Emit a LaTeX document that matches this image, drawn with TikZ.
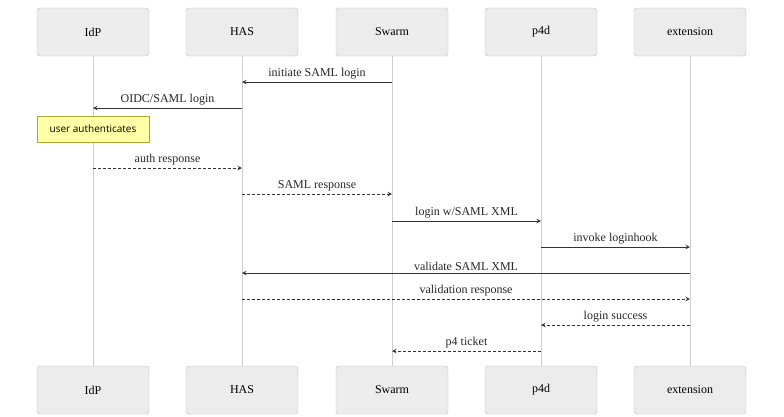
\documentclass[tikz,border=0pt]{standalone}
\usepackage{fontspec}
\setmainfont{Liberation Serif}
\newfontfamily\notefont{Open Sans}
\usepackage{tikz}

\definecolor{actorfill}{HTML}{ECECEC}
\definecolor{actorline}{HTML}{BDBDBD}
\definecolor{lifeline}{HTML}{CFCFCF}
\definecolor{notefill}{HTML}{FFFFA8}
\definecolor{noteline}{HTML}{AAAA33}
\definecolor{msgline}{HTML}{333333}

\begin{document}
\begin{tikzpicture}[x=1pt, y=-1pt,
        actor/.style={draw=actorline, fill=actorfill, rounded corners=3pt, minimum width=112pt, minimum height=48pt, inner sep=0pt, font=\fontsize{12}{14}\selectfont},
        life/.style={draw=lifeline, line width=1pt},
        msg/.style={draw=msgline, line width=1pt, -stealth},
        reply/.style={msg, dash pattern=on 3pt off 2pt},
        lbl/.style={above, inner sep=2pt, text=black!85, font=\fontsize{12}{14}\selectfont},
        notebox/.style={draw=noteline, fill=notefill, minimum width=112pt, minimum height=26pt, inner sep=0pt, font=\notefont\fontsize{10}{12}\selectfont}]
        \useasboundingbox (0,0) rectangle (784,416);

        % actors, top and bottom
        \foreach \n/\t/\x in {idp/IdP/93, has/HAS/242, swarm/Swarm/392, ptd/p4d/541, ext/extension/690} {
            \node[actor] (\n-top) at (\x,32) {\t};
            \node[actor] (\n-bot) at (\x,390) {\t};
            \draw[life] (\n-top.south) -- (\n-bot.north);
        }

        % message rows
        \coordinate (m1) at (0,82);
        \coordinate (m2) at (0,108);
        \coordinate (m3) at (0,168);
        \coordinate (m4) at (0,194);
        \coordinate (m5) at (0,221);
        \coordinate (m6) at (0,247);
        \coordinate (m7) at (0,273);
        \coordinate (m8) at (0,299);
        \coordinate (m9) at (0,325);
        \coordinate (m10) at (0,351);

        \draw[msg] (swarm-top |- m1) -- node[lbl]{initiate SAML login} (has-top |- m1);
        \draw[msg] (has-top |- m2) -- node[lbl]{OIDC/SAML login} (idp-top |- m2);
        \node[notebox] (note) at (93,129) {user authenticates};
        \draw[reply] (idp-top |- m3) -- node[lbl]{auth response} (has-top |- m3);
        \draw[reply] (has-top |- m4) -- node[lbl]{SAML response} (swarm-top |- m4);
        \draw[msg] (swarm-top |- m5) -- node[lbl]{login w/SAML XML} (ptd-top |- m5);
        \draw[msg] (ptd-top |- m6) -- node[lbl]{invoke loginhook} (ext-top |- m6);
        \draw[msg] (ext-top |- m7) -- node[lbl]{validate SAML XML} (has-top |- m7);
        \draw[reply] (has-top |- m8) -- node[lbl]{validation response} (ext-top |- m8);
        \draw[reply] (ext-top |- m9) -- node[lbl]{login success} (ptd-top |- m9);
        \draw[reply] (ptd-top |- m10) -- node[lbl]{p4 ticket} (swarm-top |- m10);
\end{tikzpicture}
\end{document}
